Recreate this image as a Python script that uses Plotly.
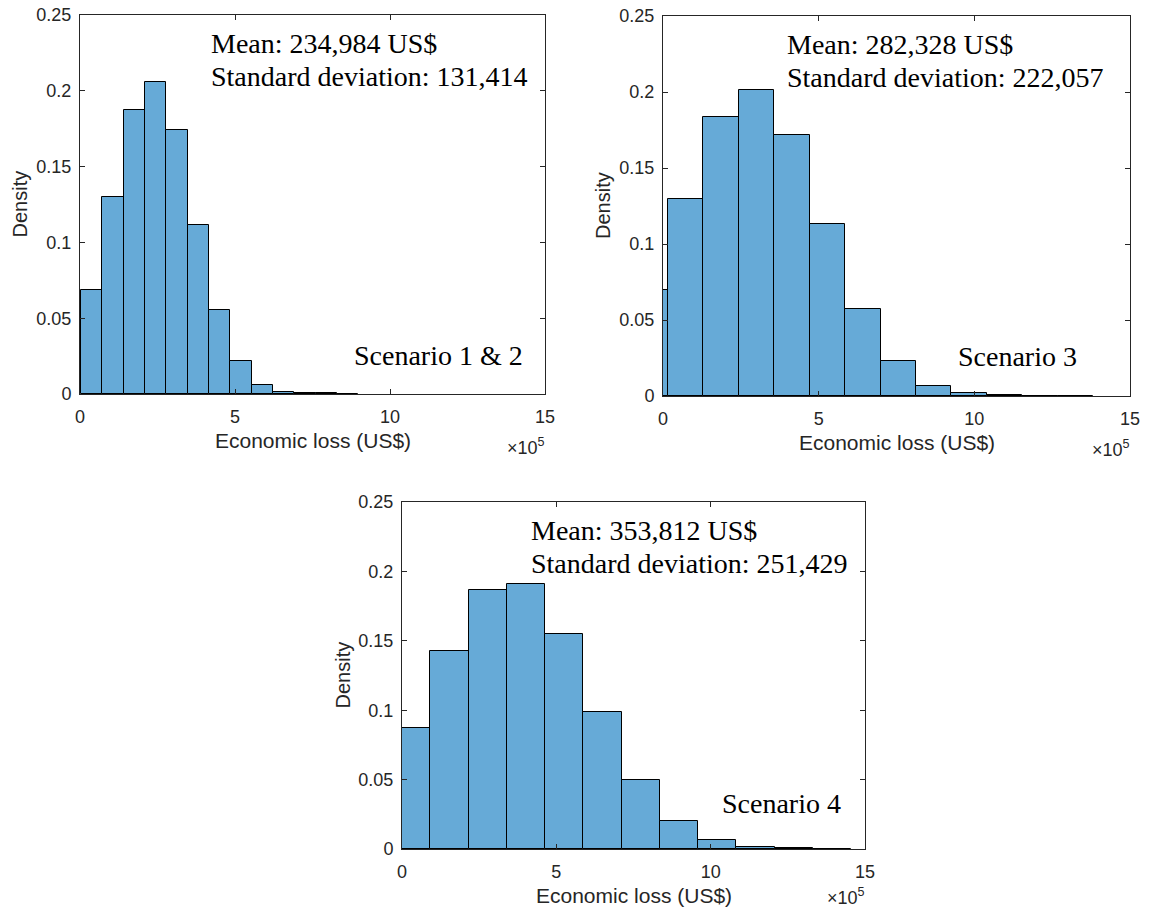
import numpy as np
import plotly.graph_objects as go

W, H = 1149, 910

# ---------------- data (x in units of 1e5 US$) ----------------
s12_start = 0.03
s12_width = 0.688
s12_density = [0.0688, 0.130, 0.1875, 0.2058, 0.1744, 0.1115, 0.0552, 0.0216,
               0.0057, 0.0015, 0.0008, 0.0004, 0.0002]

s3_start = -0.978
s3_width = 1.138
s3_density = [0.0695, 0.1296, 0.1834, 0.2016, 0.1717, 0.113, 0.0572, 0.023,
              0.0068, 0.0022, 0.0005, 0.0003, 0.0002]

s4_start = -0.324
s4_width = 1.24
s4_density = [0.0872, 0.1424, 0.1868, 0.1909, 0.1549, 0.0987, 0.0494, 0.0202,
              0.0067, 0.0017, 0.0004, 0.0002]

mean_text = ["Mean: 234,984 US$", "Mean: 282,328 US$", "Mean: 353,812 US$"]
sd_text = ["Standard deviation: 131,414", "Standard deviation: 222,057",
           "Standard deviation: 251,429"]
scenario_text = ["Scenario 1 & 2", "Scenario 3", "Scenario 4"]

x_ticks = [0, 5, 10, 15]
y_ticks = [0, 0.05, 0.1, 0.15, 0.2, 0.25]
y_ticklabels = ["0", "0.05", "0.1", "0.15", "0.2", "0.25"]

# ---------------- layout geometry (window pixels) ----------------
panels = [
    dict(l=80, r=545, t=15, b=394, txt=209, scen=(525, 356), exp=52),
    dict(l=663, r=1130, t=16, b=396, txt=785, scen=(1079, 357), exp=52),
    dict(l=402, r=865, t=502, b=849, txt=529, scen=(843, 803), exp=47),
]
series = [(s12_start, s12_width, s12_density),
          (s3_start, s3_width, s3_density),
          (s4_start, s4_width, s4_density)]

BAR = "rgb(102,170,215)"
AX = "#262626"
SANS = "Liberation Sans, Arial, sans-serif"
SERIF = "Liberation Serif, Times New Roman, serif"


def px(x):
    return x / W


def py(y):
    return 1 - y / H


fig = go.Figure()
annotations = []
for i, (p, (start, width, dens)) in enumerate(zip(panels, series)):
    n = i + 1
    xa = "x" if n == 1 else f"x{n}"
    ya = "y" if n == 1 else f"y{n}"
    left_edges = start + width * np.arange(len(dens))
    fig.add_trace(go.Bar(
        x=left_edges, y=dens, width=width, offset=0,
        marker=dict(color=BAR, line=dict(color="black", width=1)),
        xaxis=xa, yaxis=ya, showlegend=False, hoverinfo="skip"))
    xd = [px(p["l"]), px(p["r"])]
    yd = [py(p["b"]), py(p["t"])]
    axcommon = dict(showline=True, linecolor=AX, linewidth=1, mirror="ticks",
                    ticks="inside", ticklen=5, tickcolor=AX, showgrid=False,
                    zeroline=False, automargin=False, ticklabeloverflow="allow",
                    tickfont=dict(family=SANS, size=18, color=AX))
    fig.update_layout(**{
        ("xaxis" if n == 1 else f"xaxis{n}"): dict(
            domain=xd, range=[0, 15], tickvals=x_ticks, anchor=ya,
            ticklabelstandoff=6, **axcommon),
        ("yaxis" if n == 1 else f"yaxis{n}"): dict(
            domain=yd, range=[0, 0.25], tickvals=y_ticks, ticktext=y_ticklabels,
            anchor=xa, ticklabelstandoff=4, **axcommon),
    })
    annotations.append(dict(text=mean_text[i], xref="paper", yref="paper",
                            x=px(p["txt"]), y=py(p["t"] + 28), xanchor="left", yanchor="middle",
                            showarrow=False, font=dict(family=SERIF, size=28, color="black")))
    annotations.append(dict(text=sd_text[i], xref="paper", yref="paper",
                            x=px(p["txt"]), y=py(p["t"] + 61), xanchor="left", yanchor="middle",
                            showarrow=False, font=dict(family=SERIF, size=28, color="black")))
    sx, sy = p["scen"]
    annotations.append(dict(text=scenario_text[i], xref="paper", yref="paper",
                            x=px(sx), y=py(sy), xanchor="right", yanchor="middle",
                            showarrow=False, font=dict(family=SERIF, size=28, color="black")))
    # axis titles
    annotations.append(dict(text="Economic loss (US$)", xref="paper", yref="paper",
                            x=px((p["l"] + p["r"]) / 2), y=py(p["b"] + 46),
                            xanchor="center", yanchor="middle", showarrow=False,
                            font=dict(family=SANS, size=21, color=AX)))
    annotations.append(dict(text="Density", xref="paper", yref="paper",
                            x=px(p["l"] - 60), y=py((p["t"] + p["b"]) / 2),
                            xanchor="center", yanchor="middle", textangle=-90, showarrow=False,
                            font=dict(family=SANS, size=20, color=AX)))
    annotations.append(dict(text="×10<sup>5</sup>", xref="paper", yref="paper",
                            x=px(p["r"] + 2), y=py(p["b"] + p["exp"]),
                            xanchor="right", yanchor="middle", showarrow=False,
                            font=dict(family=SANS, size=18, color=AX)))

fig.update_layout(width=W, height=H, margin=dict(l=0, r=0, t=0, b=0),
                  paper_bgcolor="white", plot_bgcolor="white",
                  annotations=annotations, bargap=0)
fig.write_html("out.html",
               config={"displayModeBar": False},
               post_script="document.body.style.margin='0';"
                           "document.body.style.overflow='hidden';")
